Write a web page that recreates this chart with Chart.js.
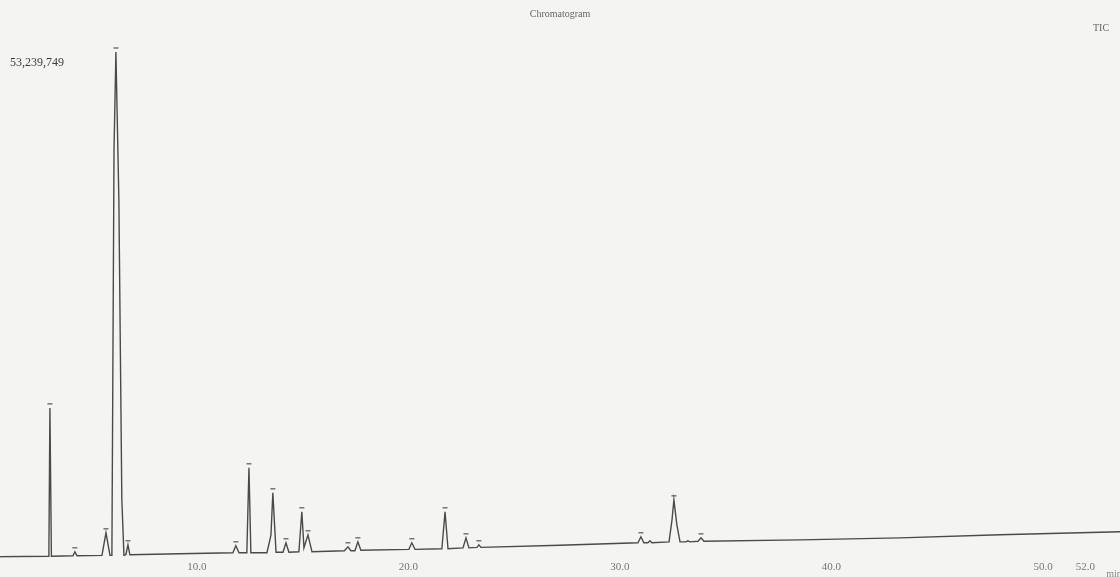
<!DOCTYPE html>
<html>
<head>
<meta charset="utf-8">
<script src="https://cdn.jsdelivr.net/npm/chart.js@4"></script>
<style>
  html, body { margin: 0; padding: 0; background: #f4f4f3; }
  #wrap { width: 1120px; height: 577px; }
</style>
</head>
<body>
<div id="wrap"><canvas id="chart_tic" width="1120" height="577"></canvas></div>
<script>
// retention time (min) and TIC intensity
const retentionTime = [
    0.69, 3.00, 3.05, 3.12, 4.14, 4.23, 4.33, 5.51, 5.70, 5.89,
    5.98, 6.08, 6.17, 6.31, 6.45, 6.55, 6.64, 6.74, 6.83, 9.20,
    11.70, 11.84, 11.99, 12.36, 12.46, 12.55, 13.31, 13.45, 13.50, 13.59,
    13.74, 14.07, 14.21, 14.35, 14.82, 14.96, 15.06, 15.25, 15.44, 16.97,
    17.14, 17.28, 17.47, 17.61, 17.75, 20.02, 20.16, 20.31, 21.58, 21.73,
    21.87, 22.58, 22.72, 22.86, 23.24, 23.33, 23.43, 27.16, 30.85, 30.99,
    31.13, 31.32, 31.42, 31.51, 32.32, 32.46, 32.55, 32.69, 32.84, 33.12,
    33.21, 33.31, 33.69, 33.83, 33.97, 38.51, 43.24, 47.97, 53.64
];
const ticIntensity = [
    110000, 160000, 15780000, 160000, 210000, 630000, 210000, 260000, 2630000, 260000,
    260000, 42900000, 53239749, 37700000, 6100000, 260000, 320000, 1370000, 320000, 420000,
    530000, 1260000, 530000, 530000, 9470000, 530000, 530000, 1890000, 2420000, 6840000,
    580000, 580000, 1580000, 580000, 630000, 4840000, 1050000, 2420000, 630000, 740000,
    1160000, 740000, 740000, 1680000, 790000, 890000, 1580000, 890000, 950000, 4840000,
    950000, 1050000, 2100000, 1050000, 1100000, 1370000, 1100000, 1320000, 1580000, 2210000,
    1580000, 1580000, 1790000, 1580000, 1680000, 4000000, 6100000, 3470000, 1680000, 1680000,
    1790000, 1680000, 1740000, 2100000, 1740000, 1890000, 2100000, 2420000, 2740000
];
// peaks carrying a label mark
const peakRT = [3.05, 4.23, 5.70, 6.17, 6.74, 11.84, 12.46, 13.59, 14.21, 14.96, 15.25,
    17.14, 17.61, 20.16, 21.73, 22.72, 23.33, 30.99, 32.55, 33.83];
const timeTicks = [10, 20, 30, 40, 50, 52];
const maxIntensity = 53239749;

const points = retentionTime.map((t, i) => ({ x: t, y: ticIntensity[i] }));

// little marks above labelled peaks + corner texts
const annotations = {
    id: 'annotations',
    afterDatasetsDraw(chart) {
        const ctx = chart.ctx;
        const xs = chart.scales.x;
        const ys = chart.scales.y;
        ctx.save();
        ctx.strokeStyle = '#555';
        ctx.lineWidth = 1.2;
        peakRT.forEach((t) => {
            const i = retentionTime.indexOf(t);
            const px = xs.getPixelForValue(t);
            const py = ys.getPixelForValue(ticIntensity[i]);
            ctx.beginPath();
            ctx.moveTo(px - 2.5, py - 4);
            ctx.lineTo(px + 2.5, py - 4);
            ctx.stroke();
        });
        ctx.fillStyle = '#3c3c3c';
        ctx.font = '12px "Liberation Serif"';
        ctx.textBaseline = 'middle';
        ctx.textAlign = 'left';
        ctx.fillText(maxIntensity.toLocaleString('en-US'), 10, 63);
        ctx.fillStyle = '#666';
        ctx.font = '10px "Liberation Serif"';
        ctx.textAlign = 'center';
        ctx.fillText('TIC', 1101, 28);
        ctx.fillStyle = '#888';
        ctx.fillText('min', 1114, 574);
        ctx.restore();
    }
};

const options = {
    responsive: false,
    animation: false,
    layout: {
        padding: { left: 0, right: 0, top: 0, bottom: 0 },
    },
    plugins: {
        legend: { display: false },
        tooltip: { enabled: false },
        title: {
            display: true,
            text: 'Chromatogram',
            color: '#666',
            font: { family: 'Liberation Serif', size: 10, weight: 'normal' },
            padding: { top: 8, bottom: 32 },
        },
    },
    scales: {
        x: {
            type: 'linear',
            min: 0.69,
            max: 53.64,
            grid: { display: false, drawTicks: false },
            border: { display: false },
            afterBuildTicks: (axis) => {
                axis.ticks = timeTicks.map((v) => ({ value: v }));
            },
            ticks: {
                padding: 3,
                color: '#777',
                font: { family: 'Liberation Serif', size: 11 },
                callback: (v) => Number(v).toFixed(1),
            },
        },
        y: {
            display: false,
            min: 0,
            max: maxIntensity,
        },
    },
};

const chart = new Chart(document.getElementById('chart_tic'), {
    type: 'line',
    data: {
        datasets: [{
            label: 'TIC',
            data: points,
            borderColor: '#4a4a4a',
            borderWidth: 1.4,
            pointRadius: 0,
            tension: 0,
            fill: false,
        }],
    },
    options: options,
    plugins: [annotations],
});
</script>
</body>
</html>
